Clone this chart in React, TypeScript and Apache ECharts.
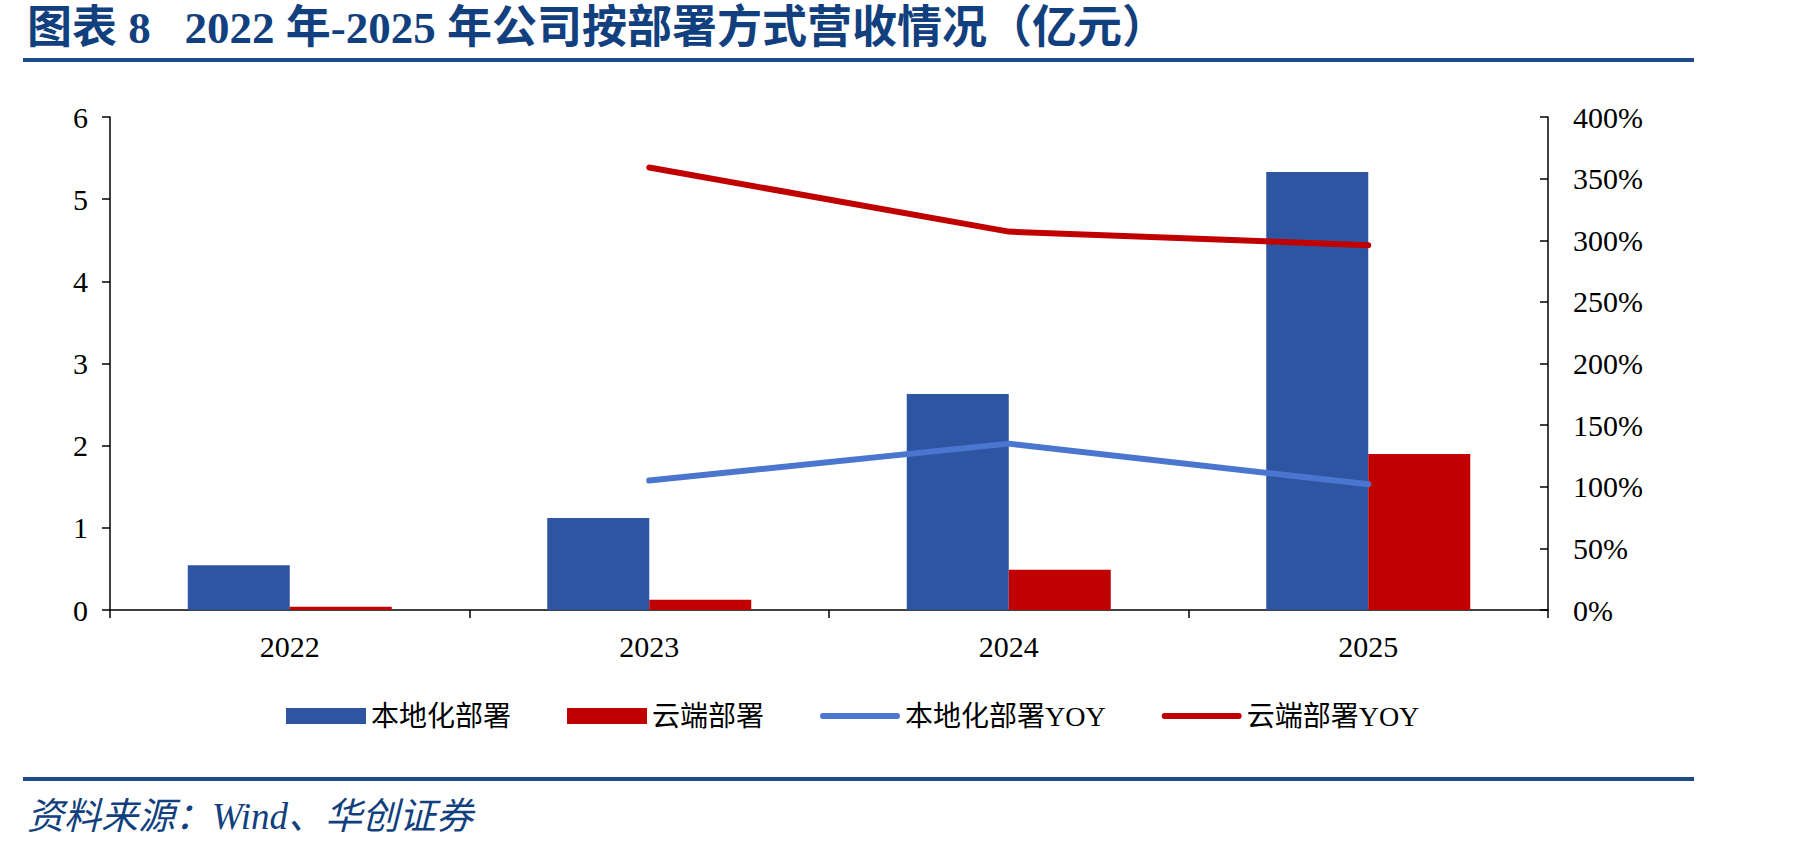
import React, { useEffect, useRef } from "react";
import * as echarts from "echarts";

// Revenue by deployment mode, 2022-2025 (亿元) and YoY growth (%)
const years = ["2022", "2023", "2024", "2025"];
const localRevenue = [0.545, 1.12, 2.63, 5.33];
const cloudRevenue = [0.04, 0.125, 0.49, 1.9];
const localYoY: (number | null)[] = [null, 105, 135, 102];
const cloudYoY: (number | null)[] = [null, 359, 307, 296];

const seriesNames = ["本地化部署", "云端部署", "本地化部署YOY", "云端部署YOY"];
const titleText = "图表 8   2022 年-2025 年公司按部署方式营收情况（亿元）";
const sourceText = "资料来源：Wind、华创证券";

const FONT = "'Liberation Serif', 'Times New Roman', 'Noto Sans CJK SC', serif";
const NAVY = "#123f7e";
const BAR_BLUE = "#2e55a2";
const RED = "#c00000";
const LINE_BLUE = "#4a76cf";

// thin rounded bar used as the legend icon of the line series
const LINE_ICON = "path://M3,0 H77 A3,3 0 0 1 77,6 H3 A3,3 0 0 1 3,0 Z";

export default function App() {
  const ref = useRef<HTMLDivElement>(null);

  useEffect(() => {
    if (!ref.current) return;
    const chart = echarts.init(ref.current, null, { renderer: "svg" });
    chart.setOption({
      animation: false,
      backgroundColor: "#ffffff",
      textStyle: { fontFamily: FONT },
      graphic: [
        {
          type: "text",
          left: 27,
          top: 5,
          style: {
            text: titleText,
            font: `bold 45px ${FONT}`,
            fill: NAVY,
          },
        },
        {
          type: "rect",
          shape: { x: 23, y: 58, width: 1671, height: 4 },
          style: { fill: "#1d4a8a" },
        },
        {
          type: "rect",
          shape: { x: 23, y: 777, width: 1671, height: 4 },
          style: { fill: "#1d4a8a" },
        },
        {
          type: "text",
          left: 27,
          top: 798,
          style: {
            text: sourceText,
            font: `italic 37px ${FONT}`,
            fill: NAVY,
          },
        },
      ],
      legend: {
        left: 281,
        top: 697,
        itemWidth: 80,
        itemHeight: 16,
        itemGap: 56,
        symbolKeepAspect: true,
        data: [
          { name: seriesNames[0], icon: "rect" },
          { name: seriesNames[1], icon: "rect" },
          { name: seriesNames[2], icon: LINE_ICON },
          { name: seriesNames[3], icon: LINE_ICON },
        ],
        textStyle: { fontSize: 28, color: "#000", fontFamily: FONT, padding: [0, 0, 0, 0] },
      },
      grid: { left: 110, right: 253, top: 117, bottom: 238 },
      xAxis: {
        type: "category",
        data: years,
        axisLine: { lineStyle: { color: "#000", width: 1.5 } },
        axisTick: { show: true, length: 8, lineStyle: { color: "#000", width: 1.5 } },
        axisLabel: { color: "#000", fontSize: 30, margin: 21, fontFamily: FONT },
      },
      yAxis: [
        {
          type: "value",
          min: 0,
          max: 6,
          interval: 1,
          splitLine: { show: false },
          axisLine: { show: true, lineStyle: { color: "#000", width: 1.5 } },
          axisTick: { show: true, length: 8, lineStyle: { color: "#000", width: 1.5 } },
          axisLabel: { color: "#000", fontSize: 30, margin: 22, fontFamily: FONT },
        },
        {
          type: "value",
          position: "right",
          min: 0,
          max: 400,
          interval: 50,
          splitLine: { show: false },
          axisLine: { show: true, lineStyle: { color: "#000", width: 1.5 } },
          axisTick: { show: true, inside: true, length: 8, lineStyle: { color: "#000", width: 1.5 } },
          axisLabel: { color: "#000", fontSize: 30, margin: 25, fontFamily: FONT, formatter: "{value}%" },
        },
      ],
      series: [
        {
          name: seriesNames[0],
          type: "bar",
          data: localRevenue,
          barWidth: 102,
          barGap: "0%",
          itemStyle: { color: BAR_BLUE },
        },
        {
          name: seriesNames[1],
          type: "bar",
          data: cloudRevenue,
          barWidth: 102,
          barGap: "0%",
          itemStyle: { color: RED },
        },
        {
          name: seriesNames[2],
          type: "line",
          yAxisIndex: 1,
          data: localYoY,
          symbol: "none",
          lineStyle: { color: LINE_BLUE, width: 6, cap: "round", join: "round" },
          itemStyle: { color: LINE_BLUE },
        },
        {
          name: seriesNames[3],
          type: "line",
          yAxisIndex: 1,
          data: cloudYoY,
          symbol: "none",
          lineStyle: { color: RED, width: 6, cap: "round", join: "round" },
          itemStyle: { color: RED },
        },
      ],
    });
    return () => chart.dispose();
  }, []);

  return (
    <div
      ref={ref}
      style={{ position: "fixed", left: 0, top: 0, width: 1801, height: 848, background: "#fff" }}
    />
  );
}
